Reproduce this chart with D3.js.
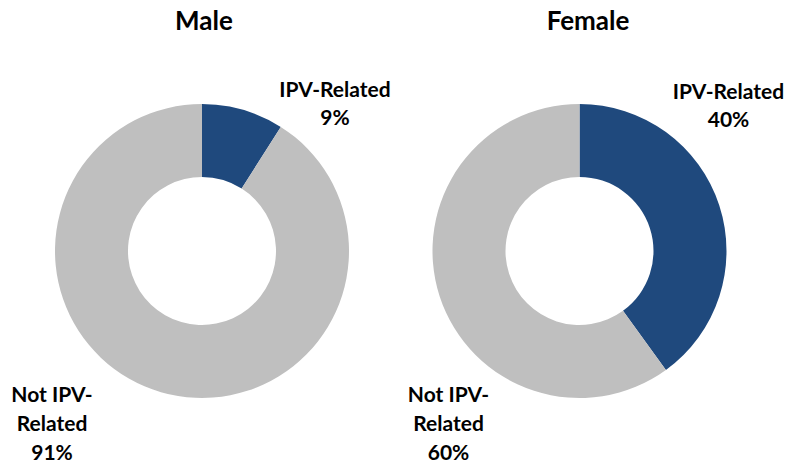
<!DOCTYPE html>
<html>
<head>
<meta charset="utf-8">
<script src="https://cdn.jsdelivr.net/npm/d3@7"></script>
<style>
  body { margin: 0; background: #fff; }
  text { font-family: Lato, "Open Sans", sans-serif; font-weight: bold; fill: #000; }
</style>
</head>
<body>
<div id="chart"></div>
<script>
// data
const groups = ["Male", "Female"];
const categories = ["IPV-Related", "Not IPV-Related"];
const maleValues = [9, 91];
const femaleValues = [40, 60];

const width = 788, height = 464;
const outerR = 147, innerR = 74;

const svg = d3.select("#chart").append("svg")
    .attr("width", width)
    .attr("height", height);

const color = d3.scaleOrdinal()
    .domain(categories)
    .range(["#1F497D", "#BFBFBF"]);

const pie = d3.pie().sort(null).value(d => d.value);
const arc = d3.arc().innerRadius(innerR).outerRadius(outerR);

const charts = [
    { name: groups[0], values: maleValues, cx: 202, cy: 251, titleX: 204,
      ipvLabel: [133, -154], notLabel: [-150, 151] },
    { name: groups[1], values: femaleValues, cx: 579.5, cy: 251, titleX: 588,
      ipvLabel: [149, -152], notLabel: [-131, 151] }
];

charts.forEach(c => {
    const data = categories.map((k, i) => ({ key: k, value: c.values[i] }));
    const g = svg.append("g").attr("transform", `translate(${c.cx},${c.cy})`);

    g.selectAll("path")
        .data(pie(data))
        .enter()
        .append("path")
        .attr("d", arc)
        .style("fill", d => color(d.data.key));

    svg.append("text")
        .attr("x", c.titleX)
        .attr("y", 30)
        .attr("text-anchor", "middle")
        .style("font-size", "26px")
        .text(c.name);

    // IPV label (2 lines)
    const t1 = g.append("text")
        .attr("text-anchor", "middle")
        .style("font-size", "21px")
        .attr("transform", `translate(${c.ipvLabel[0]},${c.ipvLabel[1]})`);
    t1.append("tspan").attr("x", 0).attr("dy", 0).text("IPV-Related");
    t1.append("tspan").attr("x", 0).attr("dy", 28).text(c.values[0] + "%");

    // Not IPV label (3 lines)
    const t2 = g.append("text")
        .attr("text-anchor", "middle")
        .style("font-size", "21px")
        .attr("transform", `translate(${c.notLabel[0]},${c.notLabel[1]})`);
    t2.append("tspan").attr("x", 0).attr("dy", 0).text("Not IPV-");
    t2.append("tspan").attr("x", 0).attr("dy", 29).text("Related");
    t2.append("tspan").attr("x", 0).attr("dy", 29).text(c.values[1] + "%");
});
</script>
</body>
</html>
